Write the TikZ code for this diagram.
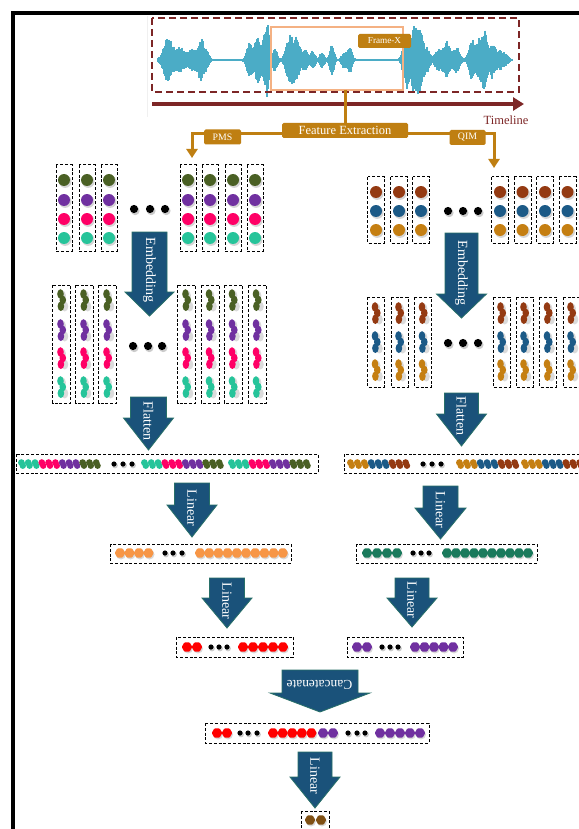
\documentclass[tikz,border=0pt]{standalone}
\usepackage{fontspec}
\setmainfont{Liberation Serif}
\usetikzlibrary{arrows.meta,calc}
\definecolor{gold}{RGB}{191,127,18}
\definecolor{maroonc}{RGB}{125,38,38}
\definecolor{wavec}{RGB}{75,172,198}
\definecolor{framec}{RGB}{244,177,131}
\definecolor{abody}{RGB}{26,82,122}
\definecolor{aedge}{RGB}{40,112,104}
\definecolor{cgreen}{RGB}{74,96,36}
\definecolor{cpurple}{RGB}{112,48,160}
\definecolor{cpink}{RGB}{255,0,102}
\definecolor{cteal}{RGB}{38,196,154}
\definecolor{cbrown}{RGB}{148,58,18}
\definecolor{cblue}{RGB}{28,90,135}
\definecolor{corange}{RGB}{197,127,18}
\definecolor{horange}{RGB}{247,150,70}
\definecolor{hgreen}{RGB}{26,122,92}
\definecolor{hred}{RGB}{255,0,0}
\definecolor{hpurple}{RGB}{112,48,160}
\definecolor{hbrown}{RGB}{127,80,20}
\tikzset{
  dbox/.style={draw=black,line width=1pt,dash pattern=on 3pt off 1.8pt},
  barrowstyle/.style={fill=abody,draw=aedge,line width=0.8pt},
  alabel/.style={text=white,inner sep=0pt,font=\fontsize{14}{16}\selectfont},
  glabel/.style={fill=gold,text=white,inner sep=0pt,rounded corners=1.5pt},
  goldline/.style={draw=gold,line width=3pt},
}
\newcommand\mydisc[3]{\fill[black,opacity=0.16] (#1+1.2,#2+1.6) circle (6.3pt);\fill[#3] (#1,#2) circle (6pt);}
\newcommand\myblob[3]{\begin{scope}[shift={(#1,#2)}]
  \fill[black,opacity=0.14] (0.8,-4.5) ellipse (3.6pt and 5pt);
  \fill[black,opacity=0.14] (3.2,6.5) ellipse (3.6pt and 5pt);
  \fill[#3] (-1,-6) ellipse (3.3pt and 4.8pt);
  \fill[#3] (1.3,0) ellipse (3.3pt and 4.4pt);
  \fill[#3] (-0.6,6.2) ellipse (3.3pt and 4.8pt);
\end{scope}}
\newcommand\myfitem[3]{\fill[#3] (#1-0.6,#2-1.4) circle (3.4pt);\fill[#3] (#1+0.8,#2+1.7) circle (3.2pt);}
\newcommand\myhex[3]{\fill[black,opacity=0.15] (#1+1,#2+1.5) circle (5pt);
  \fill[#3,rounded corners=0.8pt] (#1,#2) +(0:5.3pt) -- +(60:5.3pt) -- +(120:5.3pt) -- +(180:5.3pt) -- +(240:5.3pt) -- +(300:5.3pt) -- cycle;}
\newcommand\mysdot[2]{\fill[black,opacity=0.2] (#1+1,#2+1.5) circle (2.9pt);\fill[black] (#1,#2) circle (2.6pt);}
\newcommand\mybdot[2]{\fill[black,opacity=0.2] (#1+1.2,#2+1.8) circle (4.4pt);\fill[black] (#1,#2) circle (4.1pt);}
% block arrow: cx, top, halfbody, base, halfhead, tip
\newcommand\barrow[6]{\path[barrowstyle] (#1-#3,#2) -- (#1+#3,#2) -- (#1+#3,#4) -- (#1+#5,#4) -- (#1,#6) -- (#1-#5,#4) -- (#1-#3,#4) -- cycle;}
\begin{document}
\begin{tikzpicture}[x=1pt,y=-1pt]
\useasboundingbox (0,0) rectangle (578,829);
\fill[white] (0,0) rectangle (578,829);
% outer frame
\draw[line width=4pt] (13,835) -- (13,13.5) -- (585,13.5);
\draw[gray!12,line width=0.6pt] (147,16) -- (147,117);
% waveform
\pgfmathsetseed{11}
\foreach \x in {158,...,512}{
  \gdef\amp{0.9}
  \foreach \c/\w/\a in {168/6/22,180/6/13,192/5/11,201/4/22,207/3/8,
      250/4/18,258/4/22,265/3/24,268/2/28,275/3/12,
      290/5/24,297/4/18,305/4/10,313/3/9,322/3/8,332/3/15,344/3/8,350/3/12,
      406/4/25,414/5/30,420/4/26,427/4/12,
      438/4/10,447/5/18,457/4/12,
      472/4/20,480/4/22,485/3/24,492/4/18,500/4/10,506/3/5}{
    \pgfmathparse{\amp+\a*exp(-min(abs((\x-\c)/\w),6)^2)}\xdef\amp{\pgfmathresult}}
  \pgfmathsetmacro\ta{\amp*(0.7+0.3*rnd)}
  \pgfmathsetmacro\ba{\amp*(0.7+0.3*rnd)}
  \draw[wavec,line width=1.1pt] (\x,60-\ta) -- (\x,60+\ba);
}
\draw[maroonc,line width=2.2pt,dash pattern=on 7pt off 4pt] (152,18) rectangle (519,92);
\draw[framec,line width=1.3pt] (271,27) rectangle (403,90);
\node[glabel,minimum width=53pt,minimum height=14pt,font=\fontsize{9.2}{11}\selectfont] (fx) at (384.5,41) {Frame-X};
% timeline
\coordinate (tl0) at (152,104);
\coordinate (tl1) at (524,104);
\draw[maroonc,line width=4pt,-{Triangle[length=11pt,width=13pt]}] (tl0) -- (tl1);
\node[text=maroonc,inner sep=0pt,font=\fontsize{12.5}{14}\selectfont] (tlt) at (506,120) {Timeline};
% feature extraction
\coordinate (fxbot) at (345,90);
\coordinate (fejoin) at (345,134);
\coordinate (pmsend) at (192,158);
\coordinate (qimend) at (494,168);
\draw[goldline] (fxbot) -- (fejoin);
\draw[goldline,-{Triangle[length=9pt,width=11pt]}] (fejoin) -| (pmsend);
\draw[goldline,-{Triangle[length=9pt,width=11pt]}] (fejoin) -| (qimend);
\node[glabel,minimum width=126pt,minimum height=15pt,font=\fontsize{12.5}{14}\selectfont] (fe) at (345,130.5) {Feature Extraction};
\node[glabel,minimum width=37pt,minimum height=15pt,font=\fontsize{9.8}{11}\selectfont] (pms) at (222.5,137) {PMS};
\node[glabel,minimum width=36pt,minimum height=15pt,font=\fontsize{9.8}{11}\selectfont] (qim) at (467.5,137.5) {QIM};
% ---- PMS columns
\foreach \x in {64,87,109,188,210,233,255}{
  \draw[dbox] (\x-8,165) rectangle (\x+8,251);
  \mydisc{\x}{180}{cgreen}\mydisc{\x}{200}{cpurple}\mydisc{\x}{219}{cpink}\mydisc{\x}{238}{cteal}
}
\mybdot{134}{209}\mybdot{150}{209}\mybdot{165}{209}
% ---- QIM columns
\foreach \x in {376,399,421,500,522.5,545,567.5}{
  \draw[dbox] (\x-8.5,177) rectangle (\x+8.5,243);
  \mydisc{\x}{192}{cbrown}\mydisc{\x}{211}{cblue}\mydisc{\x}{230}{corange}
}
\mybdot{448}{211}\mybdot{463}{211}\mybdot{478}{211}
% ---- embedding arrows
\barrow{149.5}{232}{17.5}{292}{24.5}{316}
\node[alabel,rotate=-90] (le) at (149.5,270) {Embedding};
\barrow{461.5}{233}{16.5}{294}{25}{318}
\node[alabel,rotate=-90] (re) at (461.5,273) {Embedding};
% ---- PMS embedded
\foreach \x in {61.5,84.5,107.5,186.5,210,233,257}{
  \draw[dbox] (\x-9,285) rectangle (\x+9,403);
  \myblob{\x}{300}{cgreen}\myblob{\x}{330}{cpurple}\myblob{\x}{358}{cpink}\myblob{\x}{387}{cteal}
}
\mybdot{133}{346}\mybdot{148}{346}\mybdot{162}{346}
% ---- QIM embedded
\foreach \x in {376,399.5,423,501.5,524.5,548,571.5}{
  \draw[dbox] (\x-8.5,297) rectangle (\x+8.5,387);
  \myblob{\x}{313}{cbrown}\myblob{\x}{342}{cblue}\myblob{\x}{370}{corange}
}
\mybdot{448}{343}\mybdot{463}{343}\mybdot{478}{343}
% ---- flatten arrows
\barrow{148.5}{397}{18}{418}{25}{450}
\node[alabel,rotate=-90] (lf) at (148.5,421) {Flatten};
\barrow{461.5}{393}{17}{414}{25}{446}
\node[alabel,rotate=-90] (rf) at (461.5,416) {Flatten};
% ---- flattened rows
\draw[dbox] (16,454) rectangle (318,473);
\foreach \s in {22,145,232}{
  \foreach \i/\col in {0/cteal,1/cteal,2/cteal,3/cpink,4/cpink,5/cpink,6/cpurple,7/cpurple,8/cpurple,9/cgreen,10/cgreen,11/cgreen}{
    \myfitem{\s+\i*6.8}{464}{\col}
  }
}
\mysdot{114}{464}\mysdot{123}{464}\mysdot{132}{464}
\draw[dbox] (344,454) rectangle (582,473);
\foreach \s in {351,460,525}{
  \foreach \i/\col in {0/corange,1/corange,2/corange,3/cblue,4/cblue,5/cblue,6/cbrown,7/cbrown,8/cbrown}{
    \myfitem{\s+\i*6.9}{464}{\col}
  }
}
\mysdot{423}{464}\mysdot{432}{464}\mysdot{441}{464}
% ---- linear 1
\barrow{192}{483}{17.5}{505}{25}{537}
\node[alabel,rotate=-90] (ll1) at (192,508) {Linear};
\barrow{440.5}{486}{17.5}{508}{25.5}{539}
\node[alabel,rotate=-90] (rl1) at (440.5,510) {Linear};
\draw[dbox] (110,544) rectangle (291,563);
\foreach \x in {120,129.5,139,148.5}{\myhex{\x}{553}{horange}}
\mysdot{165}{553}\mysdot{173}{553}\mysdot{182}{553}
\foreach \i in {0,...,9}{\myhex{200+\i*9.2}{553}{horange}}
\draw[dbox] (356,544) rectangle (537,563);
\foreach \x in {367,377,387,397}{\myhex{\x}{553}{hgreen}}
\mysdot{413}{553}\mysdot{421}{553}\mysdot{429}{553}
\foreach \i in {0,...,9}{\myhex{447+\i*9}{553}{hgreen}}
% ---- linear 2
\barrow{227}{578}{17.5}{598}{25}{628}
\node[alabel,rotate=-90] (ll2) at (227,601) {Linear};
\barrow{412}{578}{17}{598}{25}{627}
\node[alabel,rotate=-90] (rl2) at (412,600) {Linear};
\draw[dbox] (176,637) rectangle (293,657);
\myhex{187}{647}{hred}\myhex{197}{647}{hred}
\mysdot{211}{647}\mysdot{219}{647}\mysdot{227}{647}
\foreach \i in {0,...,4}{\myhex{243+\i*10}{647}{hred}}
\draw[dbox] (347,637) rectangle (463,657);
\myhex{357}{647}{hpurple}\myhex{367}{647}{hpurple}
\mysdot{382}{647}\mysdot{390}{647}\mysdot{398}{647}
\foreach \i in {0,...,4}{\myhex{415+\i*9.5}{647}{hpurple}}
% ---- concatenate
\barrow{320}{670}{38}{693}{50}{712}
\node[alabel,rotate=180,font=\fontsize{13.5}{15}\selectfont] (cc) at (319.5,685) {Cancatenate};
\draw[dbox] (205,723) rectangle (429,743);
\myhex{217}{733}{hred}\myhex{227}{733}{hred}
\mysdot{240}{733}\mysdot{248}{733}\mysdot{257}{733}
\foreach \i in {0,...,4}{\myhex{273+\i*9.6}{733}{hred}}
\myhex{323}{733}{hpurple}\myhex{333}{733}{hpurple}
\mysdot{348}{733}\mysdot{357}{733}\mysdot{365}{733}
\foreach \i in {0,...,4}{\myhex{380+\i*10}{733}{hpurple}}
% ---- final linear
\barrow{315}{752}{17}{777}{25}{808}
\node[alabel,rotate=-90] (fl) at (315,776) {Linear};
\draw[dbox] (301,811) rectangle (329,832);
\myhex{310}{820}{hbrown}\myhex{321}{820}{hbrown}
\end{tikzpicture}
\end{document}
